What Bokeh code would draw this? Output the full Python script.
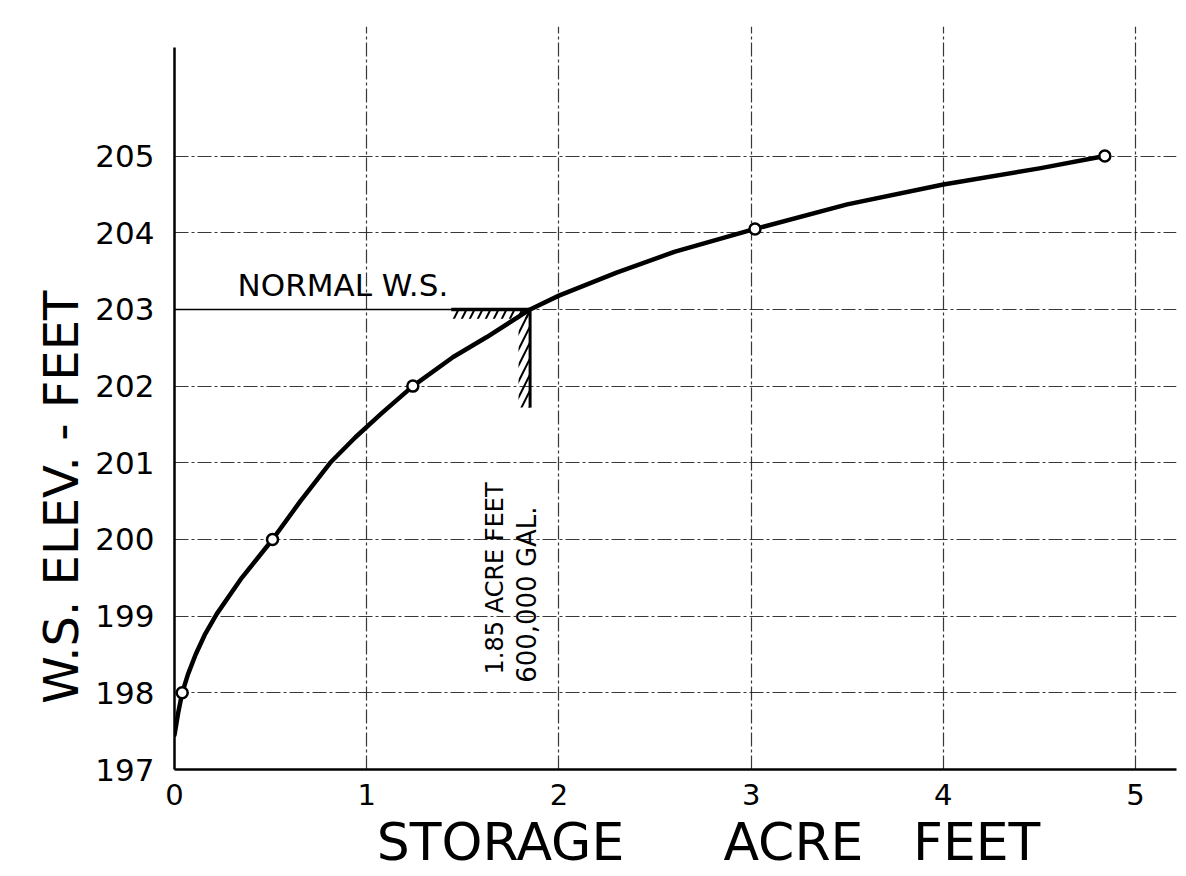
import numpy as np
from bokeh.plotting import figure
from bokeh.models import Range1d, Label, FixedTicker
from bokeh.embed import file_html
from bokeh.resources import INLINE

# ---- data ----
x_ticks = [0, 1, 2, 3, 4, 5]
y_ticks = [197, 198, 199, 200, 201, 202, 203, 204, 205]

# plotted (circled) observations: storage (acre-ft) vs W.S. elevation (ft)
pt_storage = [0.04, 0.51, 1.24, 3.02, 4.84]
pt_elev = [198.0, 200.0, 202.0, 204.05, 205.0]

# hand-drawn smooth curve, read along its length
curve_storage = [0.0, 0.02, 0.04, 0.07, 0.11, 0.16, 0.22, 0.35, 0.51, 0.655, 0.81,
                 0.94, 1.08, 1.24, 1.45, 1.625, 1.85, 2.0, 2.3, 2.6, 3.02, 3.5, 4.0,
                 4.5, 4.84]
curve_elev = [197.45, 197.75, 198.0, 198.24, 198.5, 198.77, 199.03, 199.5, 200.0,
              200.5, 201.0, 201.33, 201.65, 202.0, 202.38, 202.64, 203.0, 203.18,
              203.48, 203.75, 204.05, 204.37, 204.63, 204.84, 205.0]

normal_ws_elev = 203.0
normal_ws_storage = 1.85
hatch_start_storage = 1.44
hatch_bottom_elev = 201.72

FONT = "DejaVu Sans"
NB = "\u00a0"

p = figure(width=1180, height=874,
           x_range=Range1d(0, 5.213), y_range=Range1d(197, 206.69),
           output_backend="svg", toolbar_location=None,
           min_border_left=174, min_border_right=4,
           min_border_top=26, min_border_bottom=104)
p.outline_line_color = None
p.background_fill_color = "white"
p.border_fill_color = "white"

# axes
for ax in (p.xaxis, p.yaxis):
    ax.axis_line_color = "black"
    ax.axis_line_width = 2.5
    ax.major_tick_line_color = None
    ax.minor_tick_line_color = None
    ax.major_label_text_font = FONT
    ax.major_label_text_color = "black"
    ax.axis_label_text_font = FONT
    ax.axis_label_text_font_style = "normal"
    ax.axis_label_text_color = "black"
p.yaxis.bounds = (197, 206.42)
p.xaxis.ticker = FixedTicker(ticks=x_ticks)
p.yaxis.ticker = FixedTicker(ticks=y_ticks)
p.xaxis.major_label_text_font_size = "29px"
p.yaxis.major_label_text_font_size = "31px"
p.xaxis.major_label_standoff = 8
p.yaxis.major_label_standoff = 14

p.xaxis.axis_label = NB * 4 + "STORAGE" + NB * 6 + "ACRE" + NB * 3 + "FEET"
p.xaxis.axis_label_text_font_size = "52px"
p.xaxis.axis_label_standoff = 4
p.yaxis.axis_label = "W.S. ELEV. - FEET" + NB * 13
p.yaxis.axis_label_text_font_size = "48px"
p.yaxis.axis_label_standoff = 3

# grid
p.xgrid.ticker = FixedTicker(ticks=x_ticks[1:])
p.ygrid.ticker = FixedTicker(ticks=y_ticks[1:])
for g in (p.xgrid, p.ygrid):
    g.grid_line_color = "#222222"
    g.grid_line_width = 1.2
    g.grid_line_dash = "14 3 3 3"
    g.grid_line_alpha = 0.9

# normal W.S. line from axis to curve
p.segment(x0=[0], y0=[normal_ws_elev], x1=[normal_ws_storage], y1=[normal_ws_elev],
          line_color="black", line_width=1.5)
p.segment(x0=[hatch_start_storage], y0=[normal_ws_elev], x1=[normal_ws_storage],
          y1=[normal_ws_elev], line_color="black", line_width=3.5)
p.segment(x0=[normal_ws_storage], y0=[normal_ws_elev], x1=[normal_ws_storage],
          y1=[hatch_bottom_elev], line_color="black", line_width=3)
# hatching
p.quad(left=[hatch_start_storage], right=[normal_ws_storage],
       bottom=[normal_ws_elev - 0.12], top=[normal_ws_elev],
       fill_color=None, line_color=None, hatch_pattern="/", hatch_color="black",
       hatch_scale=16, hatch_weight=2)
p.quad(left=[normal_ws_storage - 0.06], right=[normal_ws_storage],
       bottom=[hatch_bottom_elev], top=[normal_ws_elev],
       fill_color=None, line_color=None, hatch_pattern="/", hatch_color="black",
       hatch_scale=16, hatch_weight=2)

# curve and points
p.line(curve_storage, curve_elev, line_color="black", line_width=4.5,
       line_join="round", line_cap="round")
p.scatter(pt_storage, pt_elev, size=11, marker="circle", fill_color="white",
          line_color="black", line_width=2.5)

# texts
p.add_layout(Label(x=0.328, y=203.09, text="NORMAL W.S.", text_font=FONT,
                   text_font_size="31px", text_color="black"))
p.add_layout(Label(x=1.668, y=198.24, text="1.85 ACRE FEET", angle=np.pi / 2,
                   text_font=FONT, text_font_size="24px", text_color="black",
                   text_baseline="middle"))
p.add_layout(Label(x=1.834, y=198.13, text="600,000 GAL.", angle=np.pi / 2,
                   text_font=FONT, text_font_size="26px", text_color="black",
                   text_baseline="middle"))

open("out.html", "w").write(file_html(p, INLINE))
